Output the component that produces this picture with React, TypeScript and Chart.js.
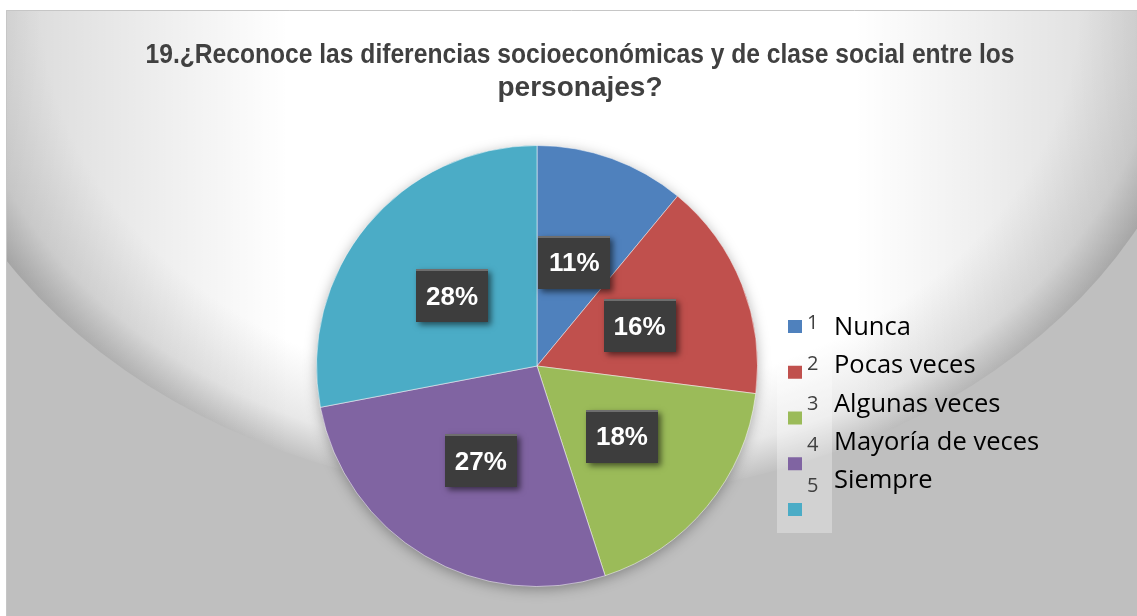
import React, { useEffect, useRef } from "react";
import { Chart, registerables } from "chart.js";

Chart.register(...registerables);

const categories = ["Nunca", "Pocas veces", "Algunas veces", "Mayoría de veces", "Siempre"];
const categoryNumbers = ["1", "2", "3", "4", "5"];
const percentages = [11, 16, 18, 27, 28];
const titleLines = [
  "19.¿Reconoce las diferencias socioeconómicas y de clase social entre los",
  "personajes?",
];
const sliceColors = ["#4F81BD", "#C0504D", "#9BBB59", "#8064A2", "#4BACC6"];

const W = 1137;
const H = 616;

const backgroundPlugin = {
  id: "bgPlugin",
  beforeDraw(chart: any) {
    const ctx = chart.ctx as CanvasRenderingContext2D;
    ctx.save();
    ctx.fillStyle = "#ffffff";
    ctx.fillRect(0, 0, W, H);
    ctx.save();
    ctx.beginPath();
    ctx.rect(6, 10, W - 6, H - 10);
    ctx.clip();
    ctx.fillStyle = "#bfbfbf";
    ctx.fillRect(6, 10, W - 6, H - 10);
    ctx.save();
    ctx.translate(560, 0);
    ctx.scale(1, 499 / 649);
    ctx.beginPath();
    ctx.arc(0, 0, 649, 0, Math.PI * 2);
    ctx.clip();
    const g = ctx.createRadialGradient(0, 0, 0, 0, 0, 649);
    g.addColorStop(0, "#ffffff");
    g.addColorStop(0.8, "#ffffff");
    g.addColorStop(0.93, "#e8e8e8");
    g.addColorStop(1, "#c1c1c1");
    ctx.fillStyle = g;
    ctx.fillRect(-700, 0, 1400, 1000);
    ctx.restore();
    ctx.save();
    ctx.translate(560, 0);
    ctx.scale(1, 499 / 649);
    ctx.beginPath();
    ctx.arc(0, 0, 649, 0, Math.PI * 2);
    ctx.restore();
    ctx.clip();
    const lg = ctx.createLinearGradient(6, 0, W, 0);
    lg.addColorStop(0, "rgba(0,0,0,0.15)");
    lg.addColorStop(0.25, "rgba(0,0,0,0)");
    lg.addColorStop(0.75, "rgba(0,0,0,0)");
    lg.addColorStop(1, "rgba(0,0,0,0.14)");
    ctx.fillStyle = lg;
    ctx.fillRect(6, 10, W - 6, H - 10);
    ctx.restore();
    ctx.strokeStyle = "#c6c6c6";
    ctx.lineWidth = 1;
    ctx.beginPath();
    ctx.moveTo(6.5, H);
    ctx.lineTo(6.5, 10.5);
    ctx.lineTo(W, 10.5);
    ctx.stroke();
    ctx.restore();
  },
  beforeDatasetsDraw(chart: any) {
    const ctx = chart.ctx as CanvasRenderingContext2D;
    const arc = chart.getDatasetMeta(0).data[0];
    if (!arc) return;
    const { x, y, outerRadius } = arc.getProps(["x", "y", "outerRadius"], true);
    ctx.save();
    ctx.shadowColor = "rgba(0,0,0,0.35)";
    ctx.shadowBlur = 14;
    ctx.shadowOffsetX = 0;
    ctx.shadowOffsetY = 3;
    ctx.fillStyle = "#888888";
    ctx.beginPath();
    ctx.arc(x, y, outerRadius - 1, 0, Math.PI * 2);
    ctx.fill();
    ctx.restore();
  },
};

const overlayPlugin = {
  id: "overlayPlugin",
  afterDatasetsDraw(chart: any) {
    const ctx = chart.ctx as CanvasRenderingContext2D;
    const meta = chart.getDatasetMeta(0);
    const values = chart.data.datasets[0].data as number[];
    meta.data.forEach((el: any, i: number) => {
      const pos = el.tooltipPosition(true);
      const bw = 72;
      const bh = 53;
      const bx = Math.round(pos.x - bw / 2);
      const by = Math.round(pos.y - bh / 2);
      ctx.save();
      ctx.shadowColor = "rgba(0,0,0,0.55)";
      ctx.shadowBlur = 6;
      ctx.shadowOffsetX = 3;
      ctx.shadowOffsetY = 3;
      ctx.fillStyle = "#3d3d3d";
      ctx.fillRect(bx, by, bw, bh);
      ctx.restore();
      ctx.fillStyle = "#6e6e6e";
      ctx.fillRect(bx, by, bw, 2);
      ctx.fillStyle = "#ffffff";
      ctx.font = 'bold 26px "Liberation Sans", Arial, sans-serif';
      ctx.textAlign = "center";
      ctx.textBaseline = "middle";
      ctx.fillText(`${values[i]}%`, pos.x, pos.y + 2);
    });
  },
  afterDraw(chart: any) {
    const ctx = chart.ctx as CanvasRenderingContext2D;
    ctx.save();
    ctx.fillStyle = "#404040";
    ctx.font = 'bold 28px "Liberation Sans", Arial, sans-serif';
    ctx.textAlign = "center";
    ctx.textBaseline = "alphabetic";
    const targets = [869, 165];
    const baselines = [63, 96];
    titleLines.forEach((line, i) => {
      const w = ctx.measureText(line).width;
      const sx = Math.min(1.05, targets[i] / w);
      ctx.save();
      ctx.translate(580, baselines[i]);
      ctx.scale(sx, 1);
      ctx.fillText(line, 0, 0);
      ctx.restore();
    });
    ctx.restore();

    const labels = chart.data.labels as string[];
    const colors = chart.data.datasets[0].backgroundColor as string[];
    ctx.save();
    ctx.fillStyle = "rgba(255,255,255,0.3)";
    ctx.fillRect(777, 303, 55, 230);
    labels.forEach((lab, i) => {
      ctx.fillStyle = colors[i];
      ctx.fillRect(788, 320 + i * 45.75, 14, 13);
      ctx.fillStyle = "#404040";
      ctx.font = '20px "Open Sans", sans-serif';
      ctx.textAlign = "left";
      ctx.textBaseline = "alphabetic";
      ctx.fillText(categoryNumbers[i], 807, 329 + i * 40.7);
      ctx.fillStyle = "#000000";
      ctx.font = '25.5px "Open Sans", sans-serif';
      ctx.fillText(lab, 834, 335 + i * 38.3);
    });
    ctx.restore();
  },
};

export default function App() {
  const ref = useRef<HTMLCanvasElement | null>(null);
  useEffect(() => {
    if (!ref.current) return;
    const chart = new Chart(ref.current, {
      type: "pie",
      data: {
        labels: categories,
        datasets: [
          {
            data: percentages,
            backgroundColor: sliceColors,
            borderColor: "rgba(255,255,255,0.5)",
            borderWidth: 1,
          },
        ],
      },
      options: {
        responsive: false,
        animation: false,
        layout: { padding: { top: 145, bottom: 29, left: 316, right: 379 } },
        plugins: {
          legend: { display: false },
          title: { display: false },
          tooltip: { enabled: false },
        },
      },
      plugins: [backgroundPlugin, overlayPlugin],
    });
    return () => chart.destroy();
  }, []);
  return (
    <div style={{ position: "fixed", left: 0, top: 0, width: W, height: H }}>
      <canvas ref={ref} width={W} height={H} style={{ display: "block" }} />
    </div>
  );
}
